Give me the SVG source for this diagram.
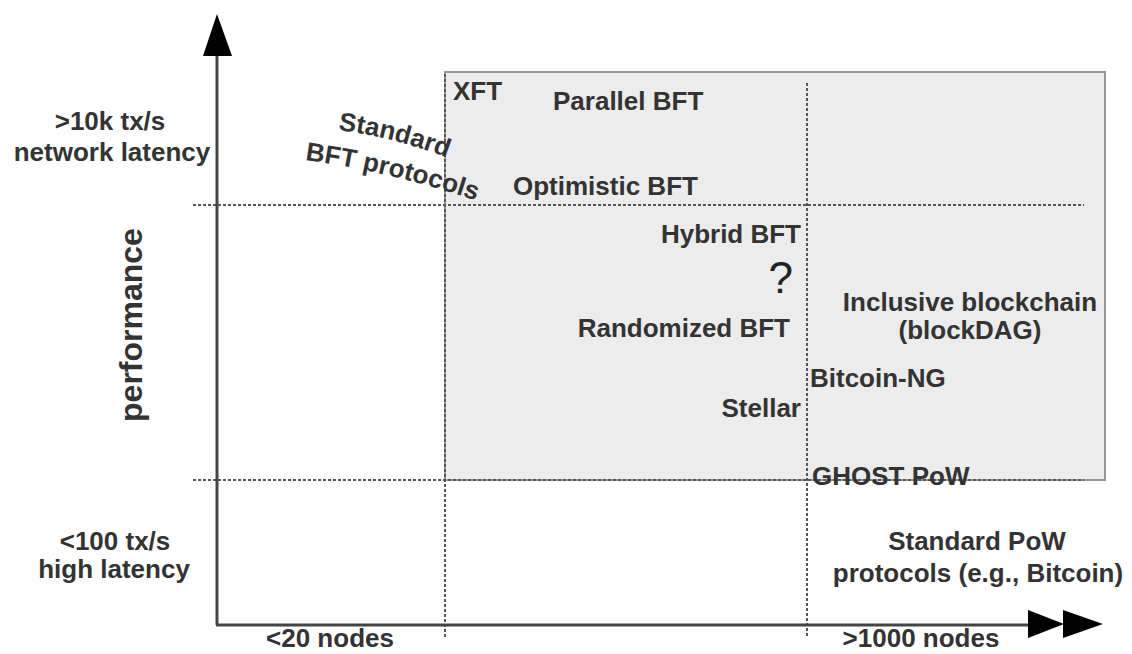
<svg xmlns="http://www.w3.org/2000/svg" width="1132" height="654" viewBox="0 0 1132 654">
<style>
.lbl{font-family:"Liberation Sans",Arial,sans-serif;font-weight:bold;font-size:26px;fill:#333}
.mid{text-anchor:middle}
.end{text-anchor:end}
.dot{stroke:#555;stroke-width:2;stroke-dasharray:3 2;fill:none}
.axis{stroke:#444;stroke-width:3;fill:none}
.head{fill:#000}
</style>
<defs>
<path id="arcStd" d="M 338 130 Q 400 138 458 162"/>
<path id="arcBft" d="M 305 160 Q 395 172 492 206"/>
</defs>
<rect width="1132" height="654" fill="#fff"/>
<g id="region">
<rect x="445" y="72" width="660" height="408" fill="#ececec" stroke="#999" stroke-width="2"/>
</g>
<g id="connectors">
<line class="dot" x1="193" y1="205" x2="1084" y2="205"/>
<line class="dot" x1="193" y1="480" x2="1084" y2="480"/>
<line class="dot" x1="445" y1="74" x2="445" y2="637"/>
<line class="dot" x1="807" y1="83" x2="807" y2="637"/>
<line class="axis" x1="217" y1="52" x2="217" y2="625"/>
<line class="axis" x1="216" y1="625" x2="1040" y2="625"/>
<polygon class="head" points="217,14 203,56 232,56"/>
<polygon class="head" points="1028,610 1064,624 1028,638"/>
<polygon class="head" points="1063,610 1103,624 1063,638"/>
</g>
<g id="y-high"><text class="lbl mid" x="110" y="130">&gt;10k tx/s</text><text class="lbl mid" x="112" y="161">network latency</text></g>
<g id="y-low"><text class="lbl mid" x="115" y="550">&lt;100 tx/s</text><text class="lbl mid" x="114" y="578">high latency</text></g>
<g id="y-title"><text class="lbl mid" style="font-size:32px" transform="translate(142,325) rotate(-90)">performance</text></g>
<g id="x-low"><text class="lbl mid" x="330" y="647">&lt;20 nodes</text></g>
<g id="x-high"><text class="lbl mid" x="921" y="647">&gt;1000 nodes</text></g>
<g id="standard-bft"><text class="lbl"><textPath href="#arcStd">Standard</textPath></text><text class="lbl"><textPath href="#arcBft">BFT protocols</textPath></text></g>
<g id="xft"><text class="lbl" x="453" y="100">XFT</text></g>
<g id="parallel-bft"><text class="lbl" x="553" y="110">Parallel BFT</text></g>
<g id="optimistic-bft"><text class="lbl" x="513" y="195">Optimistic BFT</text></g>
<g id="hybrid-bft"><text class="lbl end" x="801" y="243">Hybrid BFT</text></g>
<g id="unknown"><text x="793" y="293" style="font-family:'Liberation Sans',Arial,sans-serif;font-size:44px;fill:#222;text-anchor:end">?</text></g>
<g id="randomized-bft"><text class="lbl end" x="790" y="337">Randomized BFT</text></g>
<g id="stellar"><text class="lbl end" x="801" y="417">Stellar</text></g>
<g id="inclusive"><text class="lbl mid" x="970" y="311">Inclusive blockchain</text><text class="lbl mid" x="970" y="339">(blockDAG)</text></g>
<g id="bitcoin-ng"><text class="lbl" x="810" y="387">Bitcoin-NG</text></g>
<g id="ghost"><text class="lbl" x="812" y="485">GHOST PoW</text></g>
<g id="standard-pow"><text class="lbl mid" x="977" y="550">Standard PoW</text><text class="lbl mid" x="978" y="582">protocols (e.g., Bitcoin)</text></g>
</svg>
